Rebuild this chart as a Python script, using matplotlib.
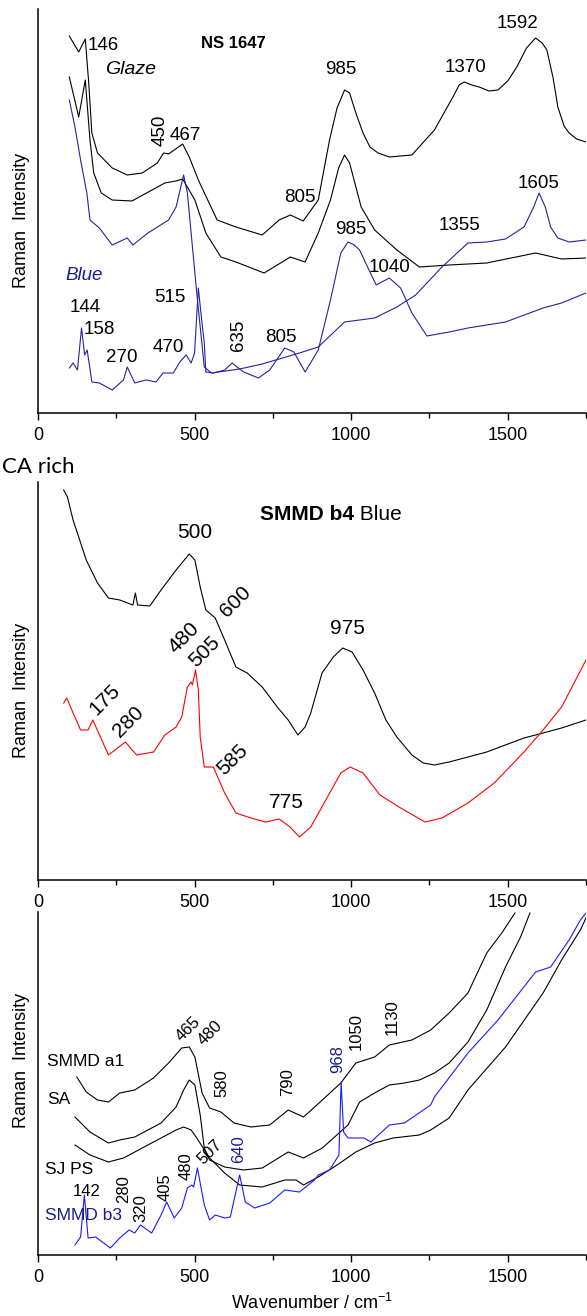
import matplotlib.pyplot as plt

plt.rcParams['font.family'] = ['Liberation Sans', 'DejaVu Sans']
plt.rcParams['mathtext.default'] = 'regular'

# ---- panel 1 : NS 1647 (intensity in arbitrary units) ----
glaze_wn = [100, 130, 151, 162, 172, 190, 237, 285, 333, 381, 401, 417, 462, 483, 512, 542, 572, 632, 716, 770,
            806, 847, 895, 931, 955, 979, 995, 1015, 1038, 1060, 1086, 1122, 1194, 1266, 1325, 1345, 1361, 1385,
            1409, 1440, 1469, 1500, 1529, 1560, 1589, 1610, 1625, 1645, 1660, 1680, 1696, 1720, 1750]
glaze_int = [377, 361, 374, 330, 280, 260, 245, 238, 240, 250, 260, 259, 269, 256, 233, 213, 193, 186, 178, 193,
             198, 192, 213, 273, 305, 323, 320, 300, 280, 266, 260, 256, 258, 283, 316, 328, 331, 328,
             326, 322, 323, 332, 346, 365, 375, 370, 363, 335, 306, 287, 280, 274, 271]

glaze2_wn = [100, 130, 151, 166, 178, 202, 237, 300, 405, 440, 462, 501, 536, 584, 632, 722, 806, 853, 895, 934,
             960, 979, 995, 1032, 1075, 1146, 1218, 1313, 1433, 1589, 1672, 1750]
glaze2_int = [336, 296, 333, 273, 240, 220, 213, 212, 230, 232, 234, 213, 180, 156, 151, 140, 156, 151, 180, 213,
              245, 258, 250, 206, 183, 163, 146, 148, 150, 160, 154, 155]

blue1_wn = [100, 118, 136, 156, 166, 196, 237, 285, 303, 351, 417, 441, 465, 477, 489, 507, 531, 554, 644, 716,
            835, 895, 979, 1075, 1146, 1206, 1290, 1373, 1433, 1493, 1552, 1583, 1600, 1620, 1637, 1660, 1696, 1750]
blue1_int = [313, 286, 253, 220, 193, 185, 168, 175, 168, 180, 193, 206, 238, 220, 180, 120, 46, 40, 44, 49,
             60, 66, 91, 95, 106, 118, 146, 170, 171, 174, 186, 206, 220, 206, 186, 175, 171, 173]

blue2_wn = [100, 112, 126, 139, 149, 157, 172, 196, 237, 273, 285, 309, 345, 377, 399, 432, 453, 473, 489, 500,
            512, 522, 531, 536, 561, 596, 620, 635, 657, 704, 740, 788, 817, 853, 895, 934, 967, 990, 1010, 1027,
            1057, 1080, 1122, 1158, 1194, 1242, 1313, 1373, 1493, 1613, 1672, 1750]
blue2_int = [45, 50, 43, 85, 58, 63, 31, 30, 23, 33, 46, 30, 33, 31, 40, 40, 51, 58, 50, 60,
             125, 95, 70, 41, 40, 43, 50, 46, 41, 35, 43, 65, 61, 41, 63, 113, 160, 171, 168, 163,
             143, 128, 135, 125, 100, 77, 81, 85, 91, 105, 110, 120]

# ---- panel 2 : SMMD b4 Blue ----
b4k_wn = [82, 94, 112, 130, 154, 190, 225, 261, 303, 311, 318, 357, 393, 441, 483, 501, 518, 536, 566, 596,
          632, 668, 716, 764, 799, 830, 853, 871, 907, 943, 973, 1003, 1038, 1075, 1111, 1146, 1194, 1230, 1266,
          1313, 1433, 1552, 1613, 1672, 1750]
b4k_int = [390, 383, 360, 343, 320, 297, 282, 280, 275, 287, 275, 274, 290, 310, 326, 320, 293, 270, 262, 240,
           213, 207, 193, 173, 160, 145, 153, 167, 207, 223, 232, 228, 210, 187, 160, 143, 125, 117, 115,
           118, 128, 142, 147, 152, 160]

b4r_wn = [82, 92, 112, 136, 160, 175, 225, 279, 315, 369, 405, 441, 459, 477, 489, 493, 503, 512, 518, 531,
          560, 596, 632, 680, 728, 770, 805, 835, 871, 919, 967, 997, 1038, 1092, 1158, 1236, 1290, 1373, 1457,
          1552, 1613, 1672, 1750]
b4r_int = [177, 182, 167, 150, 150, 160, 125, 138, 125, 128, 145, 153, 163, 193, 198, 195, 210, 190, 143, 113,
           113, 87, 67, 62, 58, 61, 53, 43, 53, 80, 107, 113, 107, 85, 72, 58, 62, 77, 97,
           128, 150, 173, 220]

# ---- panel 3 ----
a1_wn = [124, 154, 190, 225, 261, 309, 369, 417, 459, 483, 501, 524, 548, 584, 626, 680, 740, 799, 848, 908,
         967, 1015, 1075, 1122, 1194, 1254, 1313, 1373, 1433, 1481, 1523]
a1_int = [178, 163, 155, 153, 162, 165, 177, 192, 207, 208, 198, 162, 147, 143, 132, 128, 130, 145, 138, 155,
          172, 192, 198, 210, 215, 225, 242, 262, 302, 322, 342]

sa_wn = [118, 166, 225, 261, 309, 393, 441, 465, 483, 501, 518, 531, 548, 596, 656, 716, 799, 848, 908, 990,
         1027, 1075, 1122, 1170, 1218, 1266, 1313, 1373, 1433, 1493, 1541, 1571]
sa_int = [138, 123, 112, 115, 118, 132, 148, 165, 175, 170, 140, 107, 95, 88, 85, 87, 103, 97, 107, 130,
          153, 162, 170, 172, 175, 182, 192, 213, 245, 288, 318, 342]

sj_wn = [118, 166, 225, 273, 351, 441, 465, 489, 507, 548, 596, 644, 716, 788, 824, 848, 895, 955, 1015, 1075,
         1134, 1218, 1254, 1313, 1373, 1493, 1613, 1672, 1732, 1750]
sj_int = [110, 100, 93, 97, 110, 125, 128, 125, 117, 97, 82, 70, 68, 75, 75, 70, 78, 90, 103, 112,
          117, 120, 125, 137, 165, 208, 262, 295, 325, 337]

b3_wn = [118, 136, 148, 160, 184, 231, 261, 291, 309, 327, 363, 393, 411, 435, 459, 477, 491, 497, 509, 531,
         548, 566, 596, 614, 644, 662, 692, 740, 788, 835, 883, 895, 931, 961, 968, 976, 990, 1041, 1063, 1087,
         1122, 1170, 1254, 1266, 1373, 1469, 1589, 1637, 1696, 1732, 1750]
b3_int = [10, 18, 60, 17, 18, 7, 17, 25, 22, 30, 22, 40, 53, 37, 47, 67, 70, 68, 87, 50,
          35, 40, 37, 38, 80, 53, 47, 52, 65, 63, 75, 80, 85, 100, 173, 123, 117, 117, 113, 120,
          130, 132, 150, 158, 202, 235, 283, 288, 315, 335, 342]

W, H = 587, 1316
fig = plt.figure(figsize=(W / 100, H / 100), dpi=100)

navy = '#24249c'
blue = '#1a1aff'
navytxt = '#1c1c90'


def panel(top, bottom, label_y):
    ax = fig.add_axes([38 / W, 1 - bottom / H, 548 / W, (bottom - top) / H])
    ax.set_xlim(0, 1750)
    ax.set_ylim(0, bottom - top)
    ax.spines['top'].set_visible(False)
    ax.spines['right'].set_visible(False)
    ax.spines['left'].set_linewidth(1.1)
    ax.spines['bottom'].set_linewidth(1.1)
    ax.set_xticks([0, 500, 1000, 1500])
    ax.set_xticks([250, 750, 1250, 1750], minor=True)
    ax.set_yticks([])
    ax.tick_params(axis='x', which='major', length=5, width=1, labelsize=13, pad=5)
    ax.tick_params(axis='x', which='minor', length=3.5, width=1)
    fig.text(22 / W, 1 - label_y / H, 'Raman  Intensity', rotation=90,
             ha='center', va='center', fontsize=13)
    return ax


lw = 0.8

# panel 1
ax1 = panel(9, 413, 220)
ax1.plot(glaze_wn, glaze_int, color='k', lw=lw)
ax1.plot(glaze2_wn, glaze2_int, color='k', lw=lw)
ax1.plot(blue1_wn, blue1_int, color=navy, lw=lw)
ax1.plot(blue2_wn, blue2_int, color=navy, lw=lw)

f1 = 13.5
ax1.text(160, 368, '146', fontsize=f1, ha='left', va='center')
ax1.text(294, 343, 'Glaze', fontsize=14, style='italic', ha='center', va='center')
ax1.text(623, 370, 'NS 1647', fontsize=12, weight='bold', ha='center', va='center')
ax1.text(390, 283, '450', fontsize=f1, rotation=90, ha='center', va='center')
ax1.text(470, 278, '467', fontsize=f1, ha='center', va='center')
ax1.text(967, 343, '985', fontsize=f1, ha='center', va='center')
ax1.text(1364, 345, '1370', fontsize=f1, ha='center', va='center')
ax1.text(1531, 390, '1592', fontsize=f1, ha='center', va='center')
ax1.text(1597, 230, '1605', fontsize=f1, ha='center', va='center')
ax1.text(837, 216, '805', fontsize=f1, ha='center', va='center')
ax1.text(999, 183, '985', fontsize=f1, ha='center', va='center')
ax1.text(1347, 187, '1355', fontsize=f1, ha='center', va='center')
ax1.text(1124, 145, '1040', fontsize=f1, ha='center', va='center')
ax1.text(147, 138, 'Blue', fontsize=13.5, style='italic', color=navytxt, ha='center', va='center')
ax1.text(421, 116, '515', fontsize=f1, ha='center', va='center')
ax1.text(151, 106, '144', fontsize=f1, ha='center', va='center')
ax1.text(197, 83, '158', fontsize=f1, ha='center', va='center')
ax1.text(269, 55, '270', fontsize=f1, ha='center', va='center')
ax1.text(415, 65, '470', fontsize=f1, ha='center', va='center')
ax1.text(641, 78, '635', fontsize=f1, rotation=90, ha='center', va='center')
ax1.text(776, 76, '805', fontsize=f1, ha='center', va='center')

fig.text(2 / W, 1 - 467 / H, 'CA rich', fontsize=16, family=['Lato', 'DejaVu Sans'],
         ha='left', va='center')

# panel 2
ax2 = panel(482, 880, 690)
ax2.plot(b4k_wn, b4k_int, color='k', lw=lw)
ax2.plot(b4r_wn, b4r_int, color='red', lw=lw)

f2 = 15
t = ax2.text(709, 365, 'SMMD b4', fontsize=15, weight='bold', ha='left', va='center')
ax2.annotate(' Blue', xy=(1, 0), xycoords=t, fontsize=15, ha='left', va='bottom')
ax2.text(501, 347, '500', fontsize=f2, ha='center', va='center')
ax2.text(632, 278, '600', fontsize=f2, rotation=45, ha='center', va='center')
ax2.text(987, 252, '975', fontsize=f2, ha='center', va='center')
ax2.text(466, 242, '480', fontsize=f2, rotation=45, ha='center', va='center')
ax2.text(531, 228, '505', fontsize=f2, rotation=45, ha='center', va='center')
ax2.text(214, 180, '175', fontsize=f2, rotation=45, ha='center', va='center')
ax2.text(288, 158, '280', fontsize=f2, rotation=45, ha='center', va='center')
ax2.text(623, 120, '585', fontsize=f2, rotation=45, ha='center', va='center')
ax2.text(793, 77, '775', fontsize=f2, ha='center', va='center')

# panel 3
ax3 = panel(912, 1255, 1060)
ax3.plot(a1_wn, a1_int, color='k', lw=lw)
ax3.plot(sa_wn, sa_int, color='k', lw=lw)
ax3.plot(sj_wn, sj_int, color='k', lw=lw)
ax3.plot(b3_wn, b3_int, color=blue, lw=lw)

f3 = 12.5
f3n = 12
ax3.text(29, 193, 'SMMD a1', fontsize=f3, ha='left', va='center')
ax3.text(29, 155, 'SA', fontsize=f3, ha='left', va='center')
ax3.text(23, 85, 'SJ PS', fontsize=f3, ha='left', va='center')
ax3.text(23, 40, 'SMMD b3', fontsize=f3, color=navytxt, ha='left', va='center')
ax3.text(156, 63, '142', fontsize=f3n, ha='center', va='center')
ax3.text(275, 66, '280', fontsize=f3n, rotation=90, ha='center', va='center')
ax3.text(329, 47, '320', fontsize=f3n, rotation=90, ha='center', va='center')
ax3.text(405, 68, '405', fontsize=f3n, rotation=90, ha='center', va='center')
ax3.text(472, 89, '480', fontsize=f3n, rotation=90, ha='center', va='center')
ax3.text(549, 103, '507', fontsize=f3n, rotation=45, ha='center', va='center')
ax3.text(640, 106, '640', fontsize=f3n, rotation=90, color=navytxt, ha='center', va='center')
ax3.text(479, 226, '465', fontsize=f3n, rotation=45, ha='center', va='center')
ax3.text(549, 222, '480', fontsize=f3n, rotation=45, ha='center', va='center')
ax3.text(588, 172, '580', fontsize=f3n, rotation=90, ha='center', va='center')
ax3.text(798, 173, '790', fontsize=f3n, rotation=90, ha='center', va='center')
ax3.text(958, 196, '968', fontsize=f3n, rotation=90, color=navytxt, ha='center', va='center')
ax3.text(1015, 223, '1050', fontsize=f3n, rotation=90, ha='center', va='center')
ax3.text(1130, 238, '1130', fontsize=f3n, rotation=90, ha='center', va='center')

fig.text(312 / W, 1 - 1303 / H, 'Wavenumber / cm$^{-1}$', fontsize=13, ha='center', va='center')

fig.savefig('out.png', dpi=100)
